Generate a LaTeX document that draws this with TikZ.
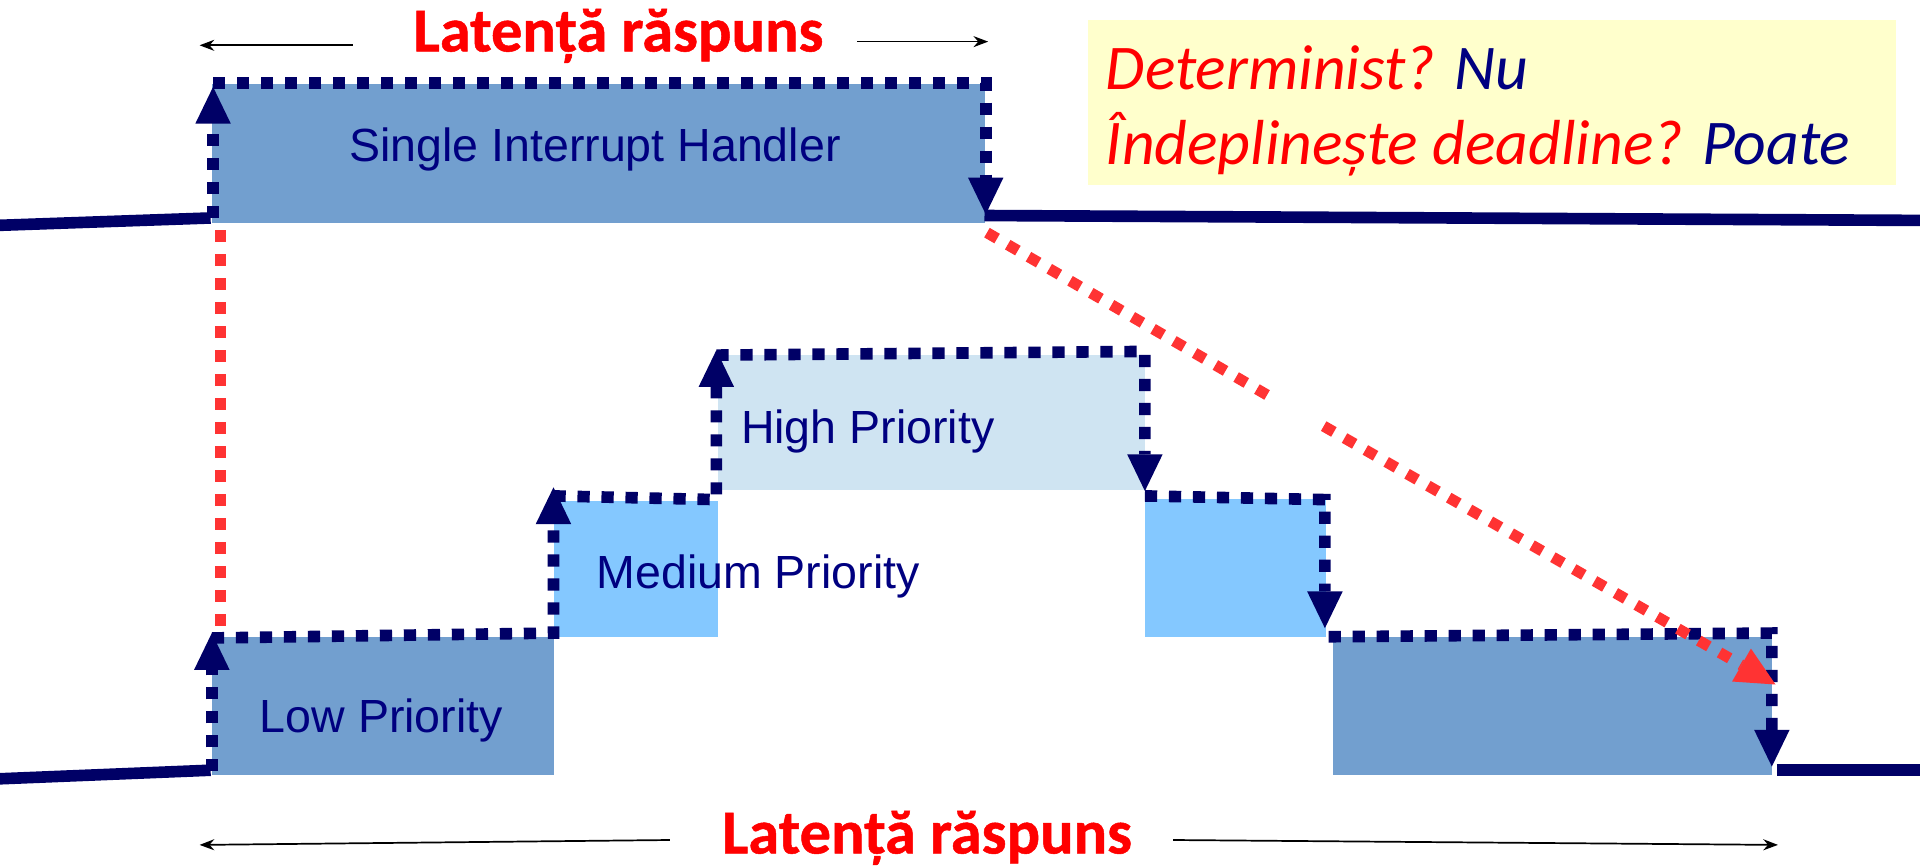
\documentclass[tikz,border=0pt]{standalone}
\usepackage{fontspec}
\setmainfont{Liberation Sans}
\newfontfamily\calfont{Carlito}
\newfontfamily\headfont[BoldFeatures={FakeBold=0.8}]{Carlito}
\usetikzlibrary{arrows.meta}

\definecolor{lineblue}{RGB}{0,0,102}
\definecolor{labelblue}{RGB}{0,0,128}
\definecolor{steel}{RGB}{114,159,207}
\definecolor{sky}{RGB}{132,200,255}
\definecolor{pale}{RGB}{207,228,242}
\definecolor{note}{RGB}{255,255,204}
\definecolor{dotred}{RGB}{255,51,51}

\tikzset{
  tintbox/.style={draw=none, inner sep=0pt, anchor=north west},
  wire/.style={draw=lineblue, line width=9.5pt},
  navydots/.style={draw=lineblue, line width=9.5pt, dash pattern=on 10pt off 9.6pt},
  reddots/.style={draw=dotred, line width=9pt, dash pattern=on 9.6pt off 10pt},
  navytip/.style={-{Triangle[width=29pt,length=30pt,line width=0pt]}},
  redtip/.style={-{Triangle[width=31pt,length=32pt,line width=0pt]}},
  spanarrow/.style={draw=black, line width=1.4pt, -{Stealth[length=12pt,width=9pt]}},
  boxtext/.style={text=labelblue, font=\fontsize{38}{40}\selectfont, inner sep=0pt, anchor=base west},
  headline/.style={text=red, font=\headfont\bfseries\fontsize{51}{56}\selectfont, inner sep=0pt, anchor=base},
  notetext/.style={font=\calfont\itshape\fontsize{52}{56}\selectfont, inner sep=0pt, anchor=base west},
}

\begin{document}
\begin{tikzpicture}[x=1pt, y=-1pt]
  \useasboundingbox (0,0) rectangle (1568,707);

  % ---------- single interrupt handler ----------
  \node[tintbox, fill=steel, minimum width=631pt, minimum height=114pt] (single) at (173,68) {};
  \node[boxtext] (singletxt) at (285,132) {Single Interrupt Handler};

  \coordinate (wireA0) at (0,184);
  \coordinate (wireA1) at (172,178);
  \coordinate (upA0) at (174,178);
  \coordinate (upA1) at (174,71);
  \coordinate (topA0) at (174,68);
  \coordinate (topA1) at (805,68);
  \coordinate (downA1) at (805,175);
  \coordinate (wireB0) at (804,176);
  \coordinate (wireB1) at (1568,180);

  \draw[wire] (wireA0) -- (wireA1);
  \draw[wire] (wireB0) -- (wireB1);
  \draw[navydots, navytip] (upA0) -- (upA1);
  \draw[navydots, navytip] (topA0) -- (topA1) -- (downA1);

  % ---------- nested priority handlers ----------
  \node[tintbox, fill=steel, minimum width=279pt, minimum height=113pt] (low1) at (173,520) {};
  \node[tintbox, fill=sky, minimum width=134pt, minimum height=111pt] (med1) at (452,409) {};
  \node[tintbox, fill=pale, minimum width=349pt, minimum height=110pt] (high) at (586,290) {};
  \node[tintbox, fill=sky, minimum width=148pt, minimum height=113pt] (med2) at (935,407) {};
  \node[tintbox, fill=steel, minimum width=359pt, minimum height=113pt] (low2) at (1088,520) {};

  \node[boxtext] (lowtxt) at (212,598) {Low Priority};
  \node[boxtext] (medtxt) at (487,481) {Medium Priority};
  \node[boxtext] (hightxt) at (605,362) {High Priority};

  \coordinate (wireC0) at (0,636);
  \coordinate (wireC1) at (172,629);
  \coordinate (wireD0) at (1451,629);
  \coordinate (wireD1) at (1568,629);
  \draw[wire] (wireC0) -- (wireC1);
  \draw[wire] (wireD0) -- (wireD1);

  \coordinate (p0) at (173,630);
  \coordinate (p1) at (173,517);
  \coordinate (p2) at (173,521);
  \coordinate (p3) at (452,517);
  \coordinate (p4) at (452,398);
  \coordinate (p5) at (452,405);
  \coordinate (p6) at (585,408);
  \coordinate (p7) at (585,286);
  \coordinate (p8) at (585,290);
  \coordinate (p9) at (935,287);
  \coordinate (p10) at (935,401);
  \coordinate (p11) at (935,405);
  \coordinate (p12) at (1082,408);
  \coordinate (p13) at (1082,513);
  \coordinate (p14) at (1085,520);
  \coordinate (p15) at (1447,517);
  \coordinate (p16) at (1447,626);

  \draw[navydots, navytip] (p0) -- (p1);
  \draw[navydots, navytip] (p2) -- (p3) -- (p4);
  \draw[navydots, navytip] (p5) -- (p6) -- (p7);
  \draw[navydots, navytip] (p8) -- (p9) -- (p10);
  \draw[navydots, navytip] (p11) -- (p12) -- (p13);
  \draw[navydots, navytip] (p14) -- (p15) -- (p16);

  % ---------- comparison guides ----------
  \coordinate (rv0) at (180,188);
  \coordinate (rv1) at (180,518);
  \draw[reddots] (rv0) -- (rv1);

  \coordinate (rd0) at (806,190);
  \coordinate (rdgap0) at (1039,325);
  \coordinate (rdgap1) at (1081,348);
  \coordinate (rd1) at (1450,559);
  \draw[reddots] (rd0) -- (rdgap0);
  \draw[reddots, redtip] (rdgap1) -- (rd1);

  % ---------- latency spans ----------
  \node[headline] (lat1) at (505,42) {Latență răspuns};
  \coordinate (s1a) at (288,37);
  \coordinate (s1b) at (163,37);
  \coordinate (s1c) at (700,34);
  \coordinate (s1d) at (807,34);
  \draw[spanarrow] (s1a) -- (s1b);
  \draw[spanarrow] (s1c) -- (s1d);

  \node[headline] (lat2) at (757,697) {Latență răspuns};
  \coordinate (s2a) at (547,686);
  \coordinate (s2b) at (163,690);
  \coordinate (s2c) at (958,686);
  \coordinate (s2d) at (1452,690);
  \draw[spanarrow] (s2a) -- (s2b);
  \draw[spanarrow] (s2c) -- (s2d);

  % ---------- verdict ----------
  \node[tintbox, fill=note, minimum width=660pt, minimum height=135pt] (verdict) at (888,16) {};
  \node[notetext] (q1) at (903,73) {\textcolor{red}{Determinist?} \textcolor{labelblue}{Nu}};
  \node[notetext] (q2) at (903,134) {\textcolor{red}{Îndeplinește deadline?} \textcolor{labelblue}{Poate}};
\end{tikzpicture}
\end{document}
